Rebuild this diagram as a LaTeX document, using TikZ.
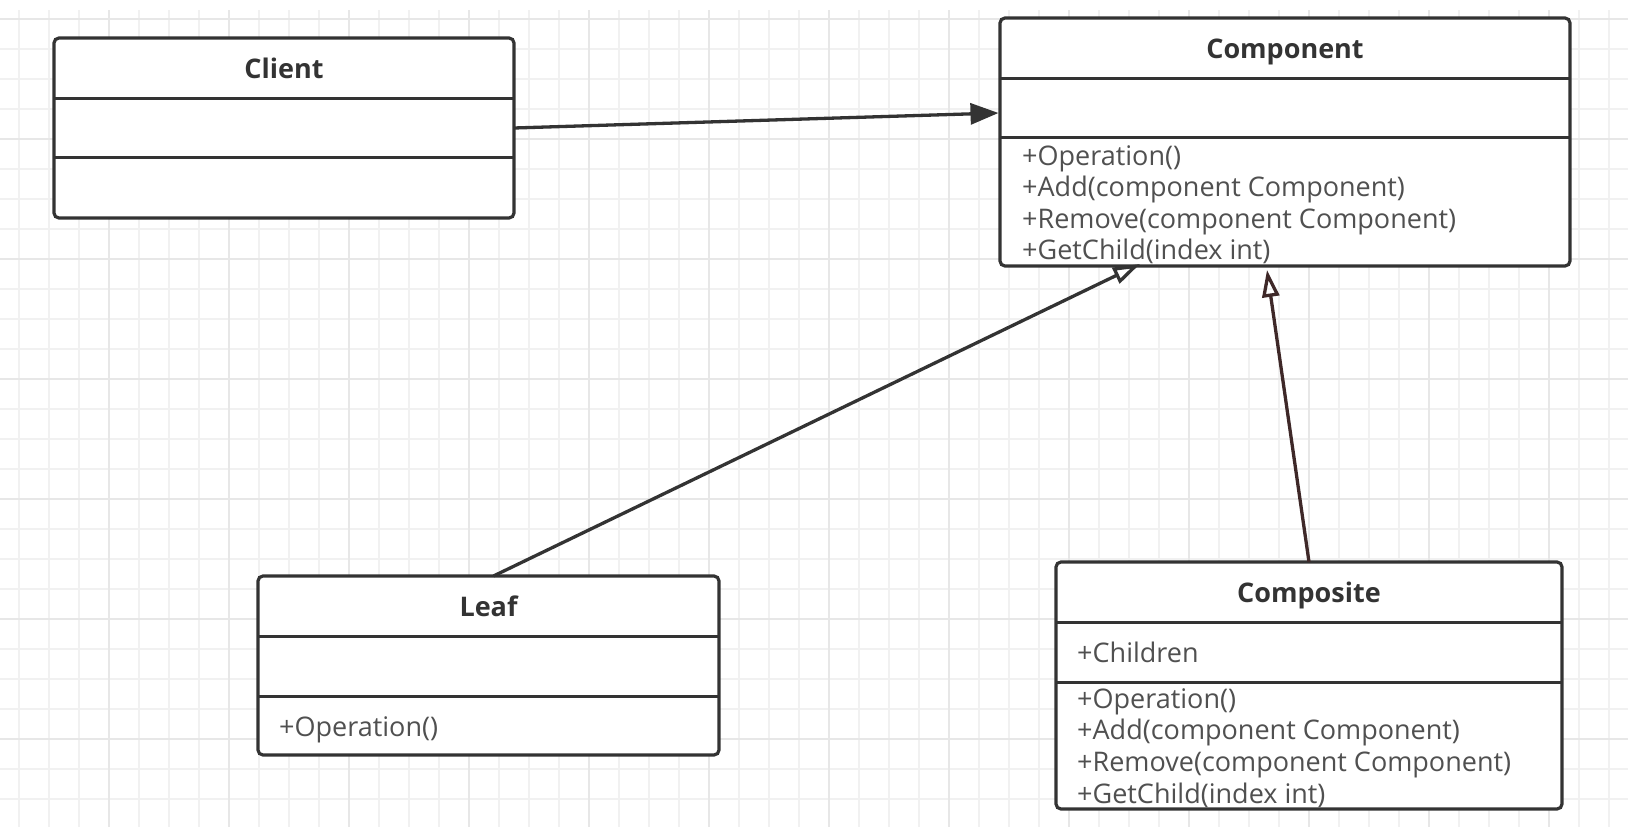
\documentclass[tikz,border=0pt]{standalone}
\usepackage{fontspec}
\setmainfont{Open Sans}
\usetikzlibrary{arrows.meta}

\definecolor{gridminor}{HTML}{F1F1F1}
\definecolor{gridmajor}{HTML}{E7E7E7}
\definecolor{inkdark}{HTML}{333333}
\definecolor{inktext}{HTML}{505050}
\definecolor{inkbrown}{RGB}{62,40,40}

\begin{document}
\begin{tikzpicture}[x=1pt,y=-1pt,
  classbox/.style={draw=inkdark, fill=white, line width=3.2pt, rounded corners=5pt,
    inner sep=0pt, outer sep=0pt},
  divider/.style={draw=inkdark, line width=3pt},
  classname/.style={font=\fontsize{27}{32}\selectfont\bfseries, text=inkdark,
    inner sep=0pt, anchor=base},
  member/.style={font=\fontsize{27}{31}\selectfont, text=inktext,
    inner sep=0pt, anchor=base west},
  assoc/.style={draw=inkdark, line width=3.3pt, -{Triangle[length=28pt,width=21pt]}},
  realize/.style={draw=inkdark, line width=3.3pt, -{Triangle[open,length=27pt,width=17pt]}},
]
\useasboundingbox[fill=white] (0,0) rectangle (1628,838);

% background grid
\foreach \gx in {19,49,...,1609}
  \draw[gridminor, line width=1.4pt] (\gx,10) -- (\gx,827);
\foreach \gy in {19,49,...,799}
  \draw[gridminor, line width=1.4pt] (0,\gy) -- (1628,\gy);
\foreach \gx in {109,229,...,1609}
  \draw[gridmajor, line width=1.4pt] (\gx,10) -- (\gx,827);
\foreach \gy in {19,139,...,799}
  \draw[gridmajor, line width=1.4pt] (0,\gy) -- (1628,\gy);

% class boxes
\node[classbox, minimum width=460pt, minimum height=180pt] (client)    at (284,128)    {};
\node[classbox, minimum width=570pt, minimum height=248pt] (component) at (1285,142)   {};
\node[classbox, minimum width=461pt, minimum height=179pt] (leaf)      at (488.5,665.5) {};
\node[classbox, minimum width=506pt, minimum height=247pt] (composite) at (1309,685.5) {};

% compartment separators
\foreach \cls/\first/\second in {client/60/119, component/60/119, leaf/60/120, composite/60/120} {
  \draw[divider] ([yshift=-\first pt]\cls.north west) -- ([yshift=-\first pt]\cls.north east);
  \draw[divider] ([yshift=-\second pt]\cls.north west) -- ([yshift=-\second pt]\cls.north east);
}

% class names
\node[classname] (clientname)    at ([yshift=-40pt]client.north)    {Client};
\node[classname] (componentname) at ([yshift=-40.5pt]component.north) {Component};
\node[classname] (leafname)      at ([yshift=-40pt]leaf.north)      {Leaf};
\node[classname] (compositename) at ([yshift=-40.5pt]composite.north) {Composite};

% Component operations
\node[member] (cop1) at ([xshift=22pt,yshift=-147pt]component.north west) {+Operation()};
\node[member] (cop2) at ([xshift=22pt,yshift=-178.5pt]component.north west) {+Add(component Component)};
\node[member] (cop3) at ([xshift=22pt,yshift=-210pt]component.north west) {+Remove(component Component)};
\node[member] (cop4) at ([xshift=22pt,yshift=-241.5pt]component.north west) {+GetChild(index int)};

% Leaf operation
\node[member] (lop1) at ([xshift=21pt,yshift=-160pt]leaf.north west) {+Operation()};

% Composite attribute and operations
\node[member] (catt) at ([xshift=21pt,yshift=-100pt]composite.north west) {+Children};
\node[member] (mop1) at ([xshift=21pt,yshift=-146pt]composite.north west) {+Operation()};
\node[member] (mop2) at ([xshift=21pt,yshift=-177.5pt]composite.north west) {+Add(component Component)};
\node[member] (mop3) at ([xshift=21pt,yshift=-209.5pt]composite.north west) {+Remove(component Component)};
\node[member] (mop4) at ([xshift=21pt,yshift=-241pt]composite.north west) {+GetChild(index int)};

% relations
\draw[assoc] (client.east) -- ([xshift=-1.5pt,yshift=29pt]component.west);
\draw[realize] ([xshift=5pt]leaf.north) -- ([xshift=-145pt,yshift=2pt]component.south);
\draw[realize, draw=inkbrown] (composite.north) -- ([xshift=-18pt,yshift=-4pt]component.south);
\end{tikzpicture}
\end{document}
